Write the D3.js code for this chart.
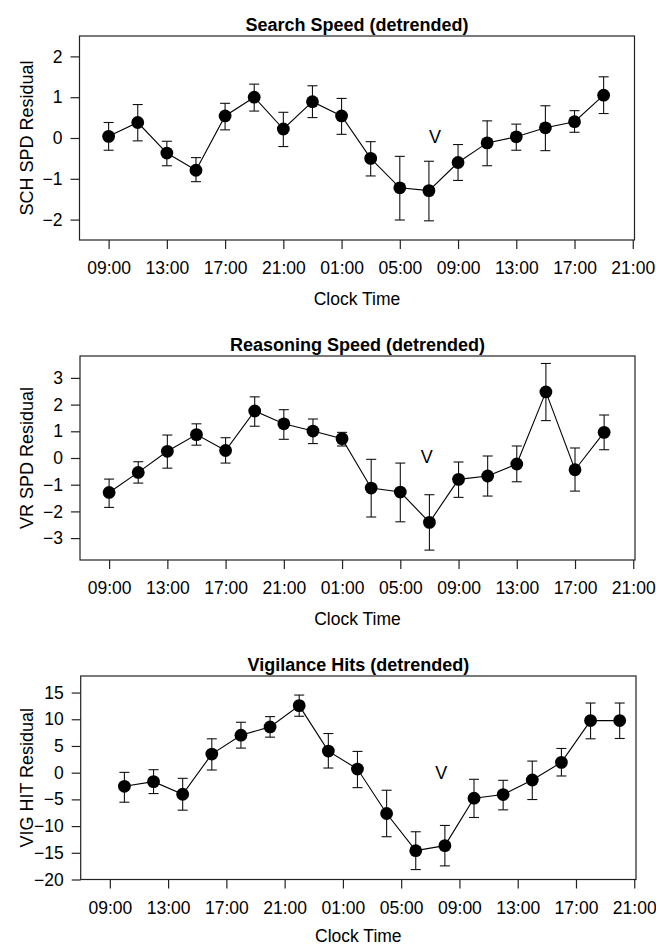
<!DOCTYPE html>
<html><head><meta charset="utf-8">
<script src="https://cdn.jsdelivr.net/npm/d3@7"></script>
<style>
html,body{margin:0;padding:0;background:#fff;}
svg{display:block;}
text{font-family:"Liberation Sans",Arial,Helvetica,sans-serif;fill:#000;}
</style></head>
<body>
<script>
// ---- data ----
const speedHours = [9,11,13,15,17,19,21,23,25,27,29,31,33,35,37,39,41,43];
const vigHours = [10,12,14,16,18,20,22,24,26,28,30,32,34,36,38,40,42,44];
const xTickHours = [9,13,17,21,25,29,33,37,41,45];
const xTickLabels = ["09:00","13:00","17:00","21:00","01:00","05:00","09:00","13:00","17:00","21:00"];

const schMean = [0.04,0.38,-0.37,-0.79,0.54,1.0,0.22,0.89,0.54,-0.5,-1.22,-1.29,-0.6,-0.12,0.03,0.25,0.4,1.05];
const schHi   = [0.38,0.82,-0.08,-0.48,0.85,1.32,0.63,1.28,0.97,-0.09,-0.45,-0.57,-0.16,0.42,0.34,0.79,0.67,1.5];
const schLo   = [-0.3,-0.07,-0.68,-1.07,0.2,0.66,-0.21,0.5,0.09,-0.93,-2.01,-2.03,-1.04,-0.68,-0.3,-0.31,0.14,0.6];

const vrMean = [-1.29,-0.54,0.25,0.875,0.28,1.76,1.28,1.01,0.725,-1.125,-1.275,-2.41,-0.8,-0.675,-0.225,2.475,-0.44,0.96];
const vrHi   = [-0.79,-0.14,0.86,1.28,0.76,2.29,1.81,1.46,0.96,-0.05,-0.19,-1.375,-0.15,0.075,0.45,3.54,0.375,1.61];
const vrLo   = [-1.85,-0.94,-0.38,0.48,-0.19,1.19,0.7,0.54,0.45,-2.21,-2.39,-3.45,-1.475,-1.425,-0.89,1.4,-1.24,0.31];

const vigMean = [-2.55,-1.68,-4.04,3.48,7.02,8.57,12.55,4.04,0.68,-7.64,-14.6,-13.66,-4.78,-4.1,-1.37,1.93,9.75,9.75];
const vigHi   = [0.06,0.56,-1.06,6.34,9.44,10.5,14.53,7.33,3.98,-3.29,-11.06,-9.88,-1.24,-1.43,2.17,4.53,13.04,13.04];
const vigLo   = [-5.53,-3.91,-7.02,0.5,4.6,6.65,10.56,0.87,-2.8,-11.99,-18.14,-17.45,-8.39,-6.96,-5.03,-0.62,6.34,6.4];

const schTicks = [-2,-1,0,1,2];
const vrTicks = [-3,-2,-1,0,1,2,3];
const vigTicks = [-20,-15,-10,-5,0,5,10,15];

const panels = [
  {title:"Search Speed (detrended)", ylab:"SCH SPD Residual", x:speedHours, m:schMean, hi:schHi, lo:schLo,
   ydom:[-2.5,2.5], yt:schTicks, box:{l:79.5,r:634.5,t:36,b:240}, v:[31.42,-0.12], xl:65},
  {title:"Reasoning Speed (detrended)", ylab:"VR SPD Residual", x:speedHours, m:vrMean, hi:vrHi, lo:vrLo,
   ydom:[-3.82,3.82], yt:vrTicks, box:{l:80,r:635,t:356,b:560}, v:[30.82,-0.19], xl:64.5},
  {title:"Vigilance Hits (detrended)", ylab:"VIG HIT Residual", x:vigHours, m:vigMean, hi:vigHi, lo:vigLo,
   ydom:[-20,18.1], yt:vigTicks, box:{l:80.7,r:636,t:676,b:879.5}, v:[31.76,-1.12], xl:62.8}
];

const W = 656, H = 945;
const svg = d3.select("body").append("svg").attr("width",W).attr("height",H);
const FS = 17.5;

panels.forEach(p => {
  const b = p.box;
  const x = d3.scaleLinear().domain([7,45.12]).range([b.l,b.r]);
  const y = d3.scaleLinear().domain(p.ydom).range([b.b,b.t]);
  const g = svg.append("g");

  // box
  g.append("rect").attr("x",b.l).attr("y",b.t).attr("width",b.r-b.l).attr("height",b.b-b.t)
    .attr("fill","none").attr("stroke","#222").attr("stroke-width",1.2);

  // x axis
  const xa = d3.axisBottom(x).tickValues(xTickHours).tickSize(9).tickPadding(13)
    .tickFormat((d,i)=>xTickLabels[i]);
  const gx = g.append("g").attr("transform",`translate(0,${b.b})`).call(xa);
  gx.select(".domain").remove();
  gx.selectAll("line").attr("stroke","#222").attr("stroke-width",1.2);
  gx.selectAll("text").style("font-size",FS+"px").attr("fill","#000");

  // y axis
  const ya = d3.axisLeft(y).tickValues(p.yt).tickSize(9).tickPadding(8).tickFormat(d3.format("d"));
  const gy = g.append("g").attr("transform",`translate(${b.l},0)`).call(ya);
  gy.select(".domain").remove();
  gy.selectAll("line").attr("stroke","#222").attr("stroke-width",1.2);
  gy.selectAll("text").style("font-size",FS+"px").attr("fill","#000");

  // title
  g.append("text").attr("x",(b.l+b.r)/2).attr("y",b.t-5).attr("text-anchor","middle")
    .style("font-size","18px").style("font-weight","bold").text(p.title);
  // x label
  g.append("text").attr("x",(b.l+b.r)/2).attr("y",b.b+p.xl).attr("text-anchor","middle")
    .style("font-size",FS+"px").text("Clock Time");
  // y label
  g.append("text").attr("transform",`translate(33,${(b.t+b.b)/2}) rotate(-90)`).attr("text-anchor","middle")
    .style("font-size","18px").text(p.ylab);

  const idx = d3.range(p.x.length);
  // error bars
  const eb = g.append("g").attr("stroke","#111").attr("stroke-width",1.1);
  eb.selectAll("line.v").data(idx).join("line").attr("class","v")
    .attr("x1",i=>x(p.x[i])).attr("x2",i=>x(p.x[i])).attr("y1",i=>y(p.hi[i])).attr("y2",i=>y(p.lo[i]));
  eb.selectAll("line.t").data(idx).join("line").attr("class","t")
    .attr("x1",i=>x(p.x[i])-5).attr("x2",i=>x(p.x[i])+5).attr("y1",i=>y(p.hi[i])).attr("y2",i=>y(p.hi[i]));
  eb.selectAll("line.b").data(idx).join("line").attr("class","b")
    .attr("x1",i=>x(p.x[i])-5).attr("x2",i=>x(p.x[i])+5).attr("y1",i=>y(p.lo[i])).attr("y2",i=>y(p.lo[i]));

  // line
  g.append("path").datum(idx).attr("fill","none").attr("stroke","#000").attr("stroke-width",1.1)
    .attr("d",d3.line().x(i=>x(p.x[i])).y(i=>y(p.m[i])));
  // points
  g.selectAll("circle").data(idx).join("circle").attr("cx",i=>x(p.x[i])).attr("cy",i=>y(p.m[i]))
    .attr("r",6.4).attr("fill","#000");

  // V annotation
  g.append("text").attr("x",x(p.v[0])).attr("y",y(p.v[1])).attr("text-anchor","middle")
    .style("font-size","18px").text("V");
});
</script>
</body></html>
